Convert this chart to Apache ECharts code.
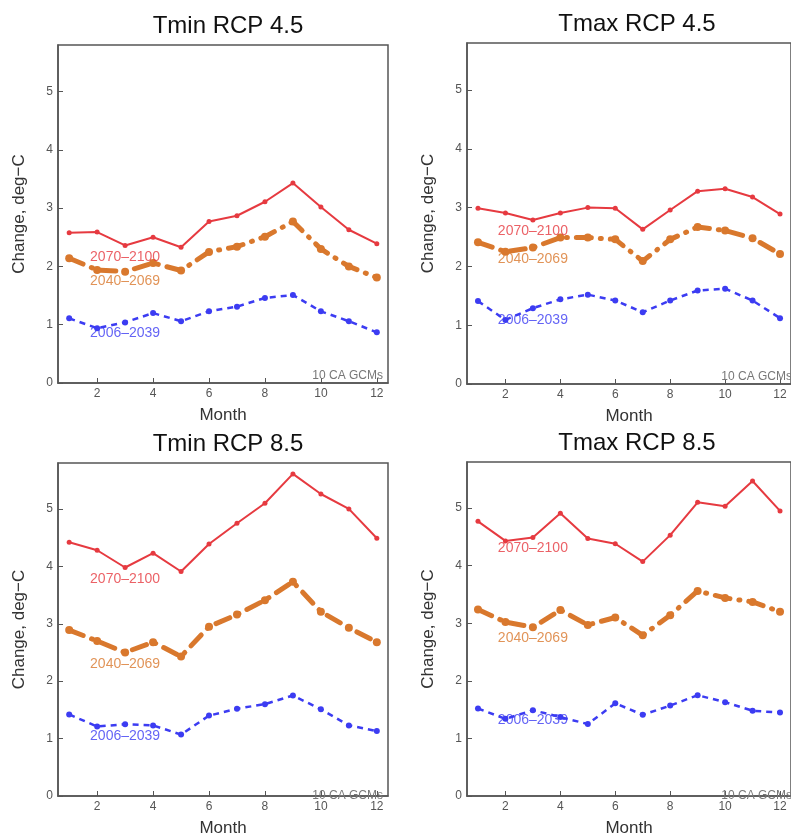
<!DOCTYPE html>
<html>
<head>
<meta charset="utf-8">
<script src="https://cdn.jsdelivr.net/npm/echarts@6/dist/echarts.min.js"></script>
<style>
  html, body { margin: 0; padding: 0; background: #fff; overflow: hidden; }
  #main { width: 791px; height: 838px; }
</style>
</head>
<body>
<div id="main"></div>
<script>
var months = [1, 2, 3, 4, 5, 6, 7, 8, 9, 10, 11, 12];
var xTicks = [2, 4, 6, 8, 10, 12];
var yTicks = [0, 1, 2, 3, 4, 5];
var periods = ['2006–2039', '2040–2069', '2070–2100'];
var panelTitles = ['Tmin RCP 4.5', 'Tmax RCP 4.5', 'Tmin RCP 8.5', 'Tmax RCP 8.5'];

// monthly change, deg C (early / mid / late century)
var tmin45Early = [1.11, 0.94, 1.04, 1.20, 1.06, 1.23, 1.31, 1.46, 1.51, 1.23, 1.06, 0.87];
var tmin45Mid   = [2.14, 1.94, 1.91, 2.06, 1.93, 2.25, 2.34, 2.51, 2.77, 2.30, 2.00, 1.81];
var tmin45Late  = [2.58, 2.59, 2.36, 2.50, 2.33, 2.77, 2.87, 3.11, 3.43, 3.02, 2.63, 2.39];

var tmax45Early = [1.41, 1.09, 1.29, 1.44, 1.52, 1.42, 1.22, 1.42, 1.59, 1.62, 1.42, 1.12];
var tmax45Mid   = [2.41, 2.25, 2.32, 2.49, 2.49, 2.46, 2.09, 2.46, 2.67, 2.61, 2.48, 2.21];
var tmax45Late  = [2.99, 2.91, 2.79, 2.91, 3.00, 2.99, 2.63, 2.96, 3.28, 3.32, 3.18, 2.89];

var tmin85Early = [1.42, 1.21, 1.25, 1.23, 1.07, 1.40, 1.52, 1.60, 1.75, 1.51, 1.23, 1.13];
var tmin85Mid   = [2.89, 2.70, 2.50, 2.68, 2.43, 2.95, 3.16, 3.41, 3.73, 3.21, 2.93, 2.68];
var tmin85Late  = [4.42, 4.28, 3.98, 4.23, 3.91, 4.39, 4.75, 5.10, 5.61, 5.26, 5.00, 4.49];

var tmax85Early = [1.52, 1.34, 1.49, 1.37, 1.25, 1.61, 1.41, 1.57, 1.75, 1.63, 1.48, 1.45];
var tmax85Mid   = [3.24, 3.02, 2.93, 3.23, 2.97, 3.10, 2.79, 3.14, 3.56, 3.44, 3.37, 3.20];
var tmax85Late  = [4.77, 4.43, 4.49, 4.91, 4.47, 4.38, 4.07, 4.53, 5.10, 5.03, 5.47, 4.95];

// where the period names sit (month, value) in each panel
var labelMonth = 3;
var tmin45LabelY = [0.86, 1.74, 2.16];
var tmax45LabelY = [1.09, 2.13, 2.60];
var tmin85LabelY = [1.05, 2.30, 3.78];
var tmax85LabelY = [1.31, 2.74, 4.30];

var panelData = [
  [tmin45Early, tmin45Mid, tmin45Late],
  [tmax45Early, tmax45Mid, tmax45Late],
  [tmin85Early, tmin85Mid, tmin85Late],
  [tmax85Early, tmax85Mid, tmax85Late]
];
var panelLabels = [tmin45LabelY, tmax45LabelY, tmin85LabelY, tmax85LabelY];

var colors = ['#3c3cf2', '#d9782d', '#e63a40'];
var lineStyles = [
  { width: 2.5, type: [6, 5], cap: 'butt' },
  { width: 5, type: [15, 9, 1, 9], cap: 'round' },
  { width: 2, type: 'solid', cap: 'round' }
];
var symbolSizes = [6, 8, 5];

var boxes = [
  { left: 58, top: 45, width: 330, height: 338 },
  { left: 467, top: 43, width: 330, height: 341 },
  { left: 58, top: 463, width: 330, height: 340 },
  { left: 467, top: 462, width: 330, height: 341 }
];

var axisColor = '#555';
var grids = [], xAxes = [], yAxes = [], titles = [], series = [], graphics = [];

boxes.forEach(function (b, p) {
  grids.push({
    left: b.left, top: b.top, width: b.width, height: b.height,
    show: true, borderColor: axisColor, borderWidth: 1.5, backgroundColor: '#fff'
  });
  titles.push({
    text: panelTitles[p],
    left: b.left + b.width / 2, top: b.top - 36,
    textAlign: 'center',
    textStyle: { fontFamily: 'Liberation Sans', fontSize: 24, fontWeight: 'normal', color: '#111' }
  });
  xAxes.push({
    type: 'value', gridIndex: p, min: 0.6, max: 12.4,
    name: 'Month', nameLocation: 'middle', nameGap: 24,
    nameTextStyle: { fontFamily: 'Liberation Sans', fontSize: 17, color: '#333' },
    axisLine: { show: true, onZero: false, lineStyle: { color: axisColor, width: 1.5 } },
    axisTick: { show: true, inside: true, length: 5, customValues: xTicks, lineStyle: { color: axisColor } },
    axisLabel: { customValues: xTicks, fontFamily: 'Liberation Sans', fontSize: 12, color: '#555', margin: 5 },
    splitLine: { show: false }
  });
  yAxes.push({
    type: 'value', gridIndex: p, min: 0, max: 5.8,
    name: 'Change, deg−C', nameLocation: 'middle', nameGap: 30,
    nameTextStyle: { fontFamily: 'Liberation Sans', fontSize: 17, color: '#333' },
    axisLine: { show: true, lineStyle: { color: axisColor, width: 1.5 } },
    axisTick: { show: true, inside: true, length: 5, customValues: yTicks, lineStyle: { color: axisColor } },
    axisLabel: { customValues: yTicks, fontFamily: 'Liberation Sans', fontSize: 12, color: '#555', margin: 5 },
    splitLine: { show: false }
  });

  panelData[p].forEach(function (vals, s) {
    series.push({
      type: 'line', xAxisIndex: p, yAxisIndex: p, name: periods[s],
      data: months.map(function (m, i) { return [m, vals[i]]; }),
      symbol: 'circle', symbolSize: symbolSizes[s], showSymbol: true,
      itemStyle: { color: colors[s] },
      lineStyle: { color: colors[s], width: lineStyles[s].width, type: lineStyles[s].type, cap: lineStyles[s].cap },
      silent: true, z: 2 + s
    });
  });

  series.push({
    type: 'scatter', xAxisIndex: p, yAxisIndex: p, silent: true, symbolSize: 0,
    data: panelLabels[p].map(function (v, s) {
      return {
        name: periods[s], value: [labelMonth, v],
        label: { color: colors[s] }
      };
    }),
    label: {
      show: true, position: 'inside', formatter: '{b}',
      fontFamily: 'Liberation Sans', fontSize: 14
    },
    z: 6
  });

  graphics.push({
    type: 'text', x: b.left + b.width - 5, y: b.top + b.height - 7,
    style: {
      text: '10 CA GCMs', align: 'right', verticalAlign: 'middle',
      font: '12px "Liberation Sans"', fill: '#777'
    },
    z: 10
  });
});

var chart = echarts.init(document.getElementById('main'), null, { renderer: 'canvas' });
chart.setOption({
  backgroundColor: '#fff',
  animation: false,
  title: titles,
  grid: grids,
  xAxis: xAxes,
  yAxis: yAxes,
  series: series,
  graphic: graphics
});
</script>
</body>
</html>
